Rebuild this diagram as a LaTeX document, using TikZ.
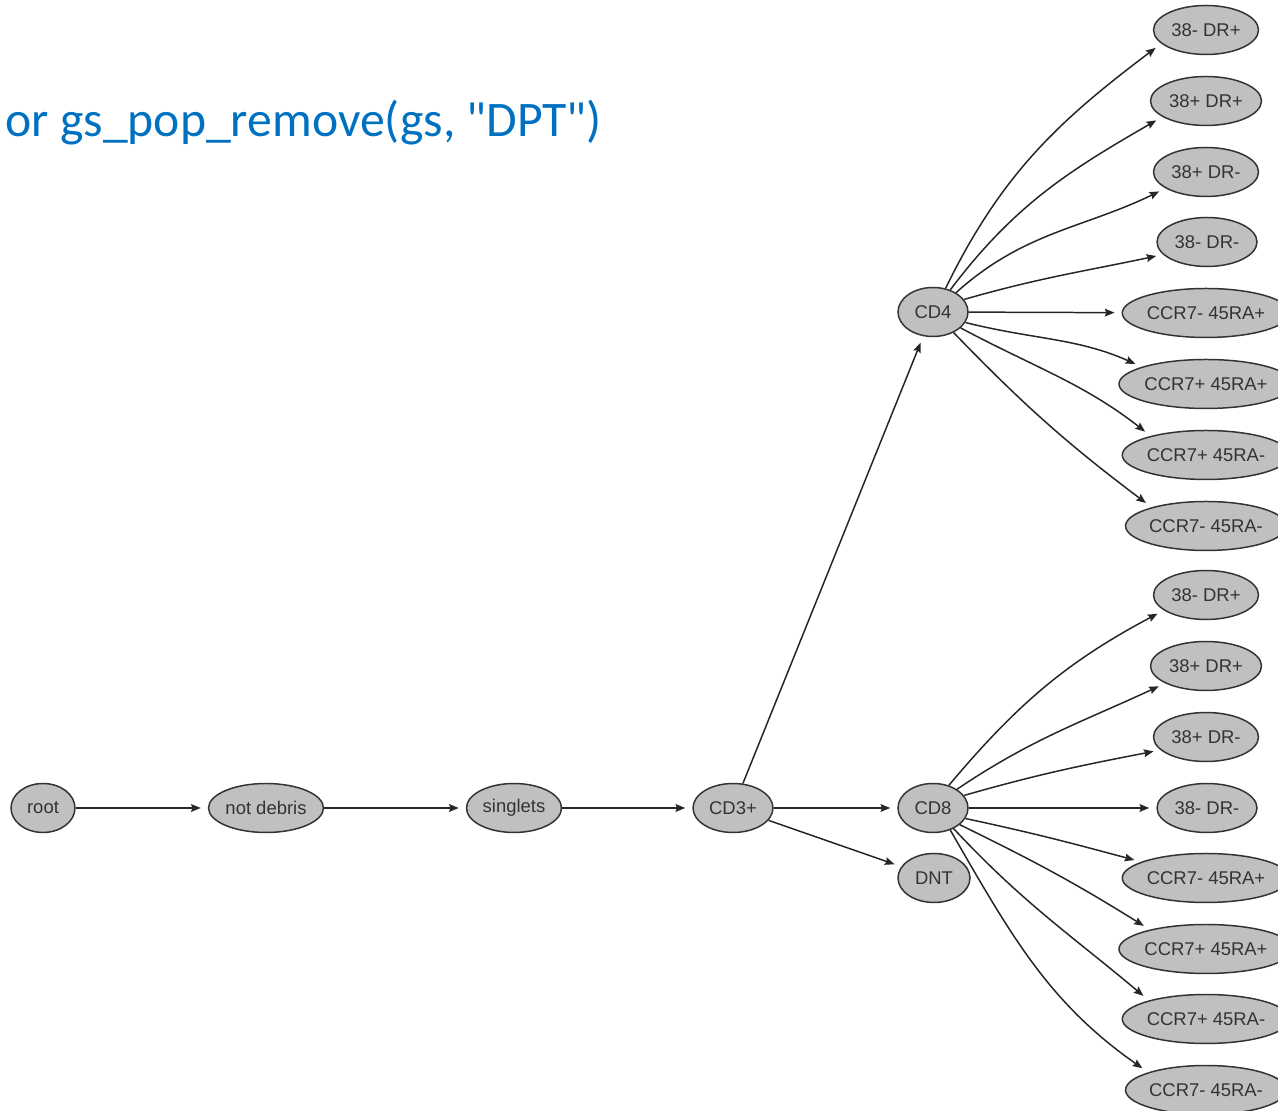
\documentclass[tikz,border=0pt]{standalone}
\usepackage{fontspec}
\newfontfamily\popfont{Liberation Sans}
\newfontfamily\notefont{Carlito}
\usepackage{tikz}
\usetikzlibrary{arrows.meta,shapes.geometric}
\definecolor{popgray}{RGB}{192,192,192}
\definecolor{noteblue}{RGB}{0,112,192}

\begin{document}
\begin{tikzpicture}[x=0.02cm, y=0.02cm, >=Stealth,
    pop/.style={ellipse,draw=black!80,fill=popgray,line width=0.85pt,minimum height=9.8mm,inner sep=0pt,text=black!80,font=\popfont\fontsize{10.5}{12}\selectfont},
    wide/.style={pop,minimum width=32.4mm},
    line/.style={draw=black!85,line width=0.85pt,-{Stealth[length=5.5pt,width=4.4pt,inset=0.8pt]},shorten >=4pt}]
    \useasboundingbox (0,0) rectangle (1278,1111);
    \node[anchor=base west,inner sep=0pt,text=noteblue,font=\notefont\fontsize{28.3}{32}\selectfont] (note) at (5,974) {or gs\_pop\_remove(gs, "DPT")};
    % gating path
    \node[pop,minimum width=12.8mm] (r) at (43,303) {root};
    \node[pop,minimum width=23mm] (nd) at (266,303) {not debris};
    \node[pop,minimum width=19mm] (sg) at (514,303) {singlets};
    \node[pop,minimum width=16mm] (cd3) at (733,303) {CD3+};
    \node[pop,minimum width=14mm] (cd4) at (933,799) {CD4};
    \node[pop,minimum width=14mm] (cd8) at (933,303) {CD8};
    \node[pop,minimum width=14.4mm] (dnt) at (934,233) {DNT};
    % CD4 subsets
    \node[pop,minimum width=21mm] (f1) at (1206,1081) {38- DR+};
    \node[pop,minimum width=22.2mm] (f2) at (1206,1010) {38+ DR+};
    \node[pop,minimum width=21mm] (f3) at (1206,939) {38+ DR-};
    \node[pop,minimum width=20mm] (f4) at (1207,869) {38- DR-};
    \node[wide] (f5) at (1206,798) {CCR7- 45RA+};
    \node[wide,minimum width=33.2mm] (f6) at (1206,727) {CCR7+ 45RA+};
    \node[wide] (f7) at (1206,656) {CCR7+ 45RA-};
    \node[wide,minimum width=31.4mm] (f8) at (1206,585) {CCR7- 45RA-};
    % CD8 subsets
    \node[pop,minimum width=21mm] (e1) at (1206,516) {38- DR+};
    \node[pop,minimum width=22.2mm] (e2) at (1206,445) {38+ DR+};
    \node[pop,minimum width=21mm] (e3) at (1206,374) {38+ DR-};
    \node[pop,minimum width=20mm] (e4) at (1207,303) {38- DR-};
    \node[wide] (e5) at (1206,233) {CCR7- 45RA+};
    \node[wide,minimum width=33.2mm] (e6) at (1206,162) {CCR7+ 45RA+};
    \node[wide] (e7) at (1206,92) {CCR7+ 45RA-};
    \node[wide,minimum width=31.4mm] (e8) at (1206,21) {CCR7- 45RA-};
    \path[line](r)--(nd); \path[line](nd)--(sg); \path[line](sg)--(cd3);
    \path[line](cd3)--(cd4); \path[line](cd3)--(cd8); \path[line](cd3)--(dnt);
    \path[line](cd4.62) to[out=64,in=217] (f1.197);
    \path[line](cd4.52) to[out=53,in=210] (f2.200);
    \path[line](cd4.40) to[out=42,in=206] (f3.202);
    \path[line](cd4.22) to[out=16,in=192] (f4.196);
    \path[line](cd4)--(f5);
    \path[line](cd4.-18) to[out=-14,in=156] (f6.165);
    \path[line](cd4.-30) to[out=-28,in=142] (f7.161);
    \path[line](cd4.-45) to[out=-46,in=143] (f8.161);
    \path[line](cd8.55) to[out=50,in=208] (e1.200);
    \path[line](cd8.38) to[out=34,in=205] (e2.203);
    \path[line](cd8.22) to[out=16,in=191] (e3.196);
    \path[line](cd8)--(e4);
    \path[line](cd8.-18) to[out=-12,in=165] (e5.166);
    \path[line](cd8.-32) to[out=-26,in=148] (e6.161);
    \path[line](cd8.-45) to[out=-47,in=140] (e7.162);
    \path[line](cd8.-52) to[out=-60,in=145] (e8.163);
\end{tikzpicture}
\end{document}
